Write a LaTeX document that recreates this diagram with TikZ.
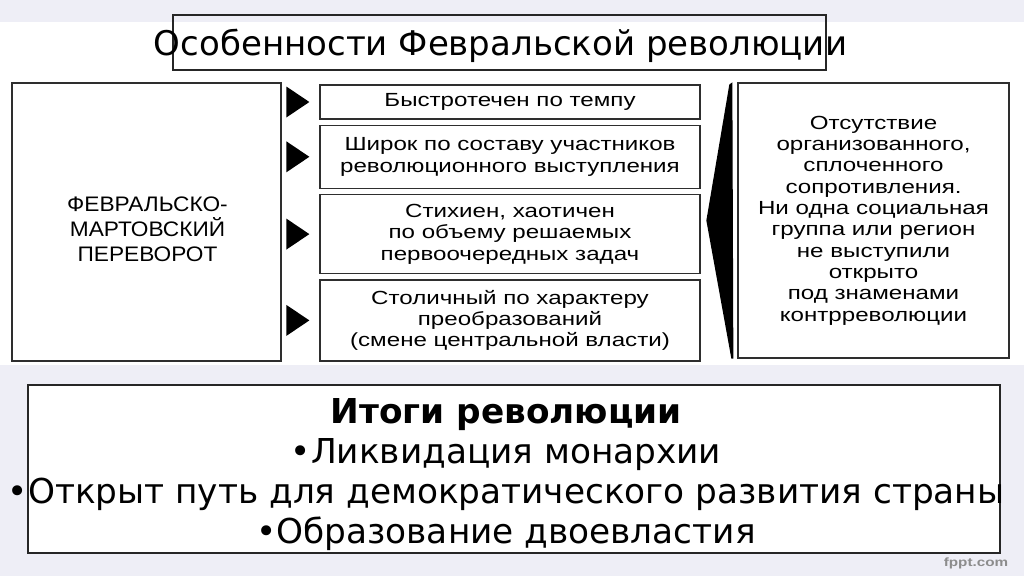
\documentclass[tikz,border=0pt]{standalone}
\usepackage{fontspec}
\setmainfont{DejaVu Sans}
\newfontfamily\scanfont{Liberation Sans}[FakeStretch=1.27]
\newfontfamily\scancaps{Liberation Sans}[FakeStretch=1.08]
\usetikzlibrary{positioning, calc}
\definecolor{slidebg}{HTML}{EEEEF6}
\definecolor{scangray}{HTML}{2E2E2E}

\begin{document}
\begin{tikzpicture}[
  x=1pt, y=-1pt,
  scanbox/.style={rectangle, draw=scangray, line width=1.3pt, fill=white, inner sep=0pt, align=center, font=\scanfont\fontsize{19}{21.3}\selectfont},
  slidebox/.style={rectangle, draw=black!85, line width=1.3pt, inner sep=0pt}
]
  \useasboundingbox (0,0) rectangle (1024,576);
  \fill[slidebg] (0,0) rectangle (1024,576);
  \fill[white] (0,22) rectangle (1024,365);

  % heading
  \node[slidebox, minimum width=653, minimum height=55] (titlebox) at (499.5,42.5) {};
  \node[font=\fontsize{34}{40}\selectfont] (title) at ($(titlebox.center)+(1,3)$) {Особенности Февральской революции};

  % scheme
  \node[scanbox, minimum width=269, minimum height=278] (coup) at (146.5,222) {};
  \node[align=center, font=\scancaps\fontsize{21}{25}\selectfont] (coupname) at ($(coup.center)+(1,7)$) {ФЕВРАЛЬСКО-\\МАРТОВСКИЙ\\ПЕРЕВОРОТ};
  \node[scanbox, minimum width=380, minimum height=34] (tempo) at (510,102) {Быстротечен по темпу};
  \node[scanbox, minimum width=380, minimum height=63, below=5pt of tempo] (sostav) {Широк по составу участников\\революционного выступления};
  \node[scanbox, minimum width=380, minimum height=79, below=5pt of sostav] (stikh) {Стихиен, хаотичен\\по объему решаемых\\первоочередных задач};
  \node[scanbox, minimum width=380, minimum height=81, below=5pt of stikh] (stol) {Столичный по характеру\\преобразований\\(смене центральной власти)};
  \node[scanbox, minimum width=271, minimum height=275] (resist) at (873.5,220.5) {Отсутствие\\организованного,\\сплоченного\\сопротивления.\\Ни одна социальная\\группа или регион\\не выступили\\открыто\\под знаменами\\контрреволюции};

  \foreach \b in {tempo,sostav,stikh,stol}
    \fill ($(\b.west)+(-33,-15.5)$) -- ++(23,15.5) -- ++(-23,15.5) -- cycle;
  \fill ($(resist.north west)+(-8,2)$) -- ($(resist.west)+(-31,0)$) -- ($(resist.south west)+(-6,0)$) -- ($(resist.south west)+(-4,0)$) -- ($(resist.north west)+(-5,0)$) -- cycle;

  % results
  \node[slidebox, fill=white, minimum width=972, minimum height=168] (resbox) at (514,469) {};
  \node[align=center, font=\fontsize{34.3}{40}\selectfont] (results) at (506,475) {\textbf{Итоги революции}\\•Ликвидация монархии\\•Открыт путь для демократического развития страны\\•Образование двоевластия};

  \node[text=black!45, font=\scanfont\bfseries\fontsize{12}{12}\selectfont] (fppt) at (976,563) {fppt.com};
\end{tikzpicture}
\end{document}
